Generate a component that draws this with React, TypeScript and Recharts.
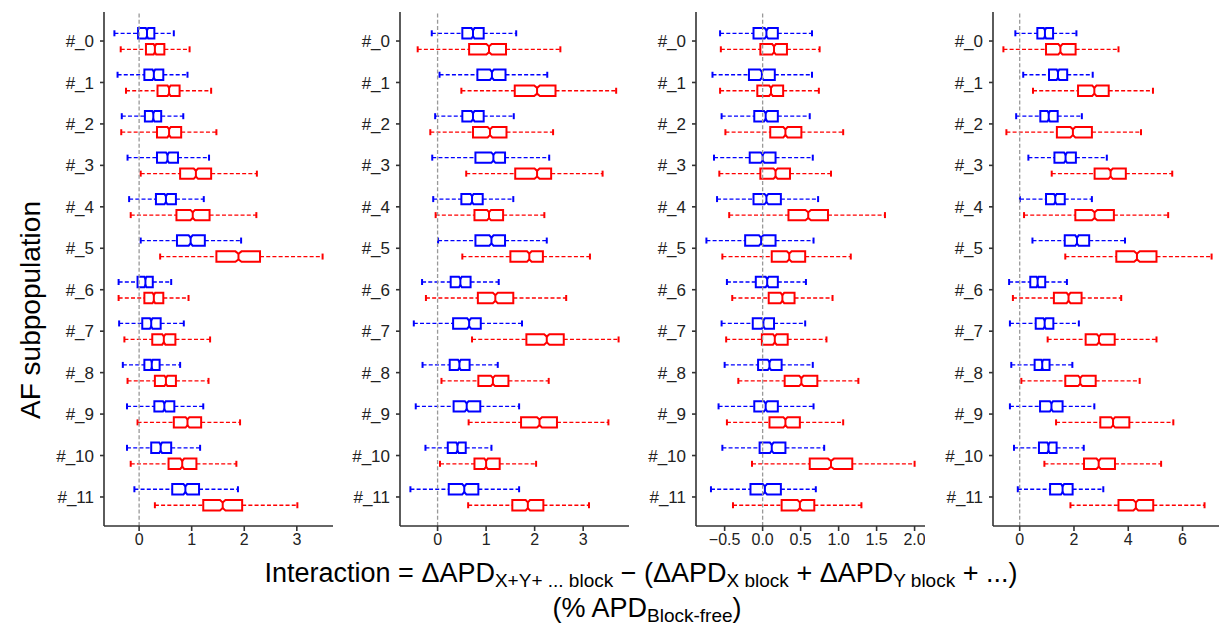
import { ComposedChart, Bar, XAxis, YAxis, ReferenceLine } from 'recharts';

// each box: [whisker low, q1, median, q3, whisker high]
type Box = [number, number, number, number, number];

const categories = ['#_0', '#_1', '#_2', '#_3', '#_4', '#_5', '#_6', '#_7', '#_8', '#_9', '#_10', '#_11'];

const panelABlue: Box[] = [
  [-0.47, -0.02, 0.15, 0.29, 0.66],
  [-0.41, 0.10, 0.28, 0.46, 0.92],
  [-0.33, 0.11, 0.27, 0.42, 0.84],
  [-0.22, 0.34, 0.54, 0.74, 1.33],
  [-0.19, 0.32, 0.51, 0.70, 1.23],
  [0.03, 0.72, 0.98, 1.25, 1.94],
  [-0.39, -0.03, 0.12, 0.26, 0.61],
  [-0.38, 0.06, 0.23, 0.41, 0.85],
  [-0.31, 0.10, 0.24, 0.39, 0.78],
  [-0.23, 0.29, 0.48, 0.67, 1.22],
  [-0.23, 0.23, 0.41, 0.61, 1.16],
  [-0.09, 0.63, 0.88, 1.14, 1.88],
];
const panelARed: Box[] = [
  [-0.35, 0.13, 0.30, 0.48, 0.96],
  [-0.25, 0.35, 0.57, 0.77, 1.37],
  [-0.34, 0.34, 0.57, 0.80, 1.47],
  [0.03, 0.78, 1.08, 1.37, 2.24],
  [-0.16, 0.71, 1.02, 1.34, 2.23],
  [0.40, 1.47, 1.89, 2.30, 3.49],
  [-0.39, 0.10, 0.28, 0.46, 0.94],
  [-0.28, 0.25, 0.47, 0.69, 1.35],
  [-0.22, 0.30, 0.51, 0.70, 1.32],
  [-0.03, 0.66, 0.92, 1.18, 1.92],
  [-0.16, 0.56, 0.82, 1.09, 1.85],
  [0.30, 1.22, 1.59, 1.96, 3.01],
];

const panelBBlue: Box[] = [
  [-0.12, 0.51, 0.73, 0.95, 1.62],
  [0.04, 0.82, 1.12, 1.40, 2.26],
  [-0.05, 0.51, 0.73, 0.95, 1.57],
  [-0.11, 0.78, 1.15, 1.39, 2.30],
  [-0.09, 0.49, 0.71, 0.93, 1.56],
  [0.01, 0.78, 1.11, 1.39, 2.25],
  [-0.32, 0.27, 0.47, 0.68, 1.26],
  [-0.49, 0.32, 0.65, 0.89, 1.74],
  [-0.31, 0.25, 0.45, 0.66, 1.24],
  [-0.45, 0.33, 0.60, 0.88, 1.68],
  [-0.25, 0.21, 0.41, 0.58, 1.11],
  [-0.56, 0.23, 0.55, 0.84, 1.68],
];
const panelBRed: Box[] = [
  [-0.41, 0.65, 1.06, 1.41, 2.53],
  [0.49, 1.59, 2.05, 2.43, 3.68],
  [-0.15, 0.73, 1.08, 1.42, 2.38],
  [0.59, 1.60, 2.05, 2.34, 3.40],
  [-0.04, 0.76, 1.06, 1.35, 2.20],
  [0.51, 1.50, 1.89, 2.17, 3.14],
  [-0.24, 0.83, 1.19, 1.56, 2.65],
  [0.71, 1.83, 2.25, 2.60, 3.73],
  [0.08, 0.84, 1.14, 1.46, 2.29],
  [0.64, 1.72, 2.10, 2.46, 3.52],
  [0.05, 0.76, 1.00, 1.28, 2.03],
  [0.63, 1.54, 1.86, 2.18, 3.12],
];

const panelCBlue: Box[] = [
  [-0.56, -0.12, 0.05, 0.20, 0.65],
  [-0.66, -0.18, -0.01, 0.16, 0.65],
  [-0.54, -0.11, 0.04, 0.20, 0.62],
  [-0.64, -0.17, 0.00, 0.17, 0.66],
  [-0.60, -0.12, 0.05, 0.24, 0.73],
  [-0.74, -0.23, -0.02, 0.17, 0.67],
  [-0.47, -0.09, 0.06, 0.20, 0.57],
  [-0.54, -0.13, 0.01, 0.15, 0.56],
  [-0.50, -0.06, 0.09, 0.25, 0.66],
  [-0.58, -0.11, 0.04, 0.20, 0.67],
  [-0.53, -0.04, 0.12, 0.30, 0.81],
  [-0.68, -0.16, 0.03, 0.24, 0.70],
];
const panelCRed: Box[] = [
  [-0.55, -0.03, 0.15, 0.32, 0.75],
  [-0.56, -0.07, 0.11, 0.27, 0.74],
  [-0.49, 0.10, 0.30, 0.51, 1.06],
  [-0.57, -0.03, 0.17, 0.36, 0.90],
  [-0.44, 0.34, 0.60, 0.86, 1.61],
  [-0.53, 0.12, 0.35, 0.56, 1.16],
  [-0.40, 0.08, 0.26, 0.42, 0.92],
  [-0.48, -0.01, 0.16, 0.33, 0.84],
  [-0.32, 0.29, 0.51, 0.72, 1.26],
  [-0.47, 0.09, 0.30, 0.49, 1.06],
  [-0.14, 0.62, 0.90, 1.18, 2.00],
  [-0.39, 0.25, 0.49, 0.68, 1.30],
];

const panelDBlue: Box[] = [
  [-0.16, 0.65, 0.93, 1.23, 2.09],
  [0.13, 1.08, 1.41, 1.75, 2.69],
  [-0.13, 0.76, 1.07, 1.40, 2.29],
  [0.32, 1.28, 1.69, 2.07, 3.21],
  [0.01, 0.97, 1.31, 1.66, 2.66],
  [0.47, 1.66, 2.11, 2.56, 3.88],
  [-0.39, 0.39, 0.66, 0.94, 1.74],
  [-0.36, 0.59, 0.92, 1.24, 2.18],
  [-0.31, 0.55, 0.83, 1.10, 1.94],
  [-0.36, 0.75, 1.17, 1.58, 2.75],
  [-0.21, 0.71, 1.06, 1.36, 2.36],
  [-0.07, 1.12, 1.58, 1.95, 3.08],
];
const panelDRed: Box[] = [
  [-0.60, 0.97, 1.50, 2.06, 3.64],
  [0.49, 2.15, 2.75, 3.28, 4.91],
  [-0.49, 1.37, 1.96, 2.66, 4.47],
  [1.18, 2.76, 3.35, 3.91, 5.62],
  [0.16, 2.05, 2.76, 3.47, 5.47],
  [1.68, 3.56, 4.32, 5.04, 7.07],
  [-0.25, 1.26, 1.80, 2.28, 3.74],
  [1.03, 2.43, 2.92, 3.50, 5.04],
  [0.06, 1.68, 2.23, 2.80, 4.42],
  [1.34, 2.97, 3.44, 4.04, 5.66],
  [0.91, 2.37, 2.91, 3.51, 5.21],
  [1.87, 3.64, 4.28, 4.92, 6.81],
];

const ticksA = [0, 1, 2, 3];
const ticksB = [0, 1, 2, 3];
const ticksC = [-0.5, 0, 0.5, 1, 1.5, 2];
const ticksD = [0, 2, 4, 6];

const panels = [
  { blue: panelABlue, red: panelARed, ticks: ticksA, decimals: 0 },
  { blue: panelBBlue, red: panelBRed, ticks: ticksB, decimals: 0 },
  { blue: panelCBlue, red: panelCRed, ticks: ticksC, decimals: 1 },
  { blue: panelDBlue, red: panelDRed, ticks: ticksD, decimals: 0 },
];

const BLUE = '#0000ff';
const RED = '#ff0000';
const FONT = '"Liberation Sans", Arial, Helvetica, sans-serif';
const SAMPLES = 500; // notch width ~ 1.57 * IQR / sqrt(n)

// 5% margin on each side of the data range
const padDomain = (boxes: Box[][]): [number, number] => {
  const all = boxes.flat().flat();
  const lo = Math.min(...all);
  const hi = Math.max(...all);
  const pad = (hi - lo) * 0.05;
  return [lo - pad, hi + pad];
};

const fmtTick = (decimals: number) => (v: number) => {
  const s = Math.abs(v).toFixed(decimals);
  return v < 0 ? `\u2212${s}` : s;
};

// draws a notched horizontal box plot inside the range bar [whisker low, whisker high]
const boxShape = (key: 'blue' | 'red', color: string) => (props: any) => {
  const { x, y, width, height, payload } = props;
  const [lo, q1, med, q3, hi] = payload[key] as Box;
  const px = (v: number) => x + ((v - lo) / (hi - lo)) * width;
  const cy = y + height / 2;
  const half = 5.2;
  const waist = half * 0.55;
  const notch = (1.57 * (q3 - q1)) / Math.sqrt(SAMPLES);
  const xq1 = px(q1), xq3 = px(q3), xm = px(med);
  const xnl = px(med - notch), xnh = px(med + notch);
  const top = cy - half, bot = cy + half;
  const path = [
    `M${xq1},${top}`, `L${xnl},${top}`, `L${xm},${cy - waist}`, `L${xnh},${top}`, `L${xq3},${top}`,
    `L${xq3},${bot}`, `L${xnh},${bot}`, `L${xm},${cy + waist}`, `L${xnl},${bot}`, `L${xq1},${bot}`, 'Z',
  ].join(' ');
  const xlo = px(lo), xhi = px(hi);
  return (
    <g>
      <line x1={xlo} y1={cy} x2={xq1} y2={cy} stroke={color} strokeWidth={1.3} strokeDasharray="4 2.2" />
      <line x1={xq3} y1={cy} x2={xhi} y2={cy} stroke={color} strokeWidth={1.3} strokeDasharray="4 2.2" />
      <line x1={xlo} y1={cy - 3} x2={xlo} y2={cy + 3} stroke={color} strokeWidth={2} />
      <line x1={xhi} y1={cy - 3} x2={xhi} y2={cy + 3} stroke={color} strokeWidth={2} />
      <path d={path} fill="none" stroke={color} strokeWidth={2} strokeLinejoin="miter" />
      <line x1={xm} y1={cy - waist} x2={xm} y2={cy + waist} stroke={color} strokeWidth={2} />
    </g>
  );
};

const blueShape = boxShape('blue', BLUE);
const redShape = boxShape('red', RED);

const PLOT_W = 229;
const LEFT_OFF = 70;
const PLOT_TOP = 12;
const PLOT_BOTTOM = 526;
const CHART_H = 630;

function Panel({ index }: { index: number }) {
  const p = panels[index];
  const rows = categories.map((name, i) => ({ name, blue: p.blue[i], red: p.red[i] }));
  const domain = padDomain([p.blue, p.red]);
  const axisX = 104 + 296.2 * index;
  return (
    <div style={{ position: 'absolute', left: axisX - LEFT_OFF, top: 0 }}>
      <ComposedChart
        width={LEFT_OFF + PLOT_W}
        height={CHART_H}
        data={rows}
        layout="vertical"
        barGap={0}
        margin={{ top: PLOT_TOP, right: 0, left: 6, bottom: CHART_H - PLOT_BOTTOM - 30 }}
      >
        <XAxis
          type="number"
          domain={domain}
          allowDataOverflow
          ticks={p.ticks}
          tickFormatter={fmtTick(p.decimals)}
          height={30}
          tickSize={5}
          tickMargin={3}
          stroke="#333"
          strokeWidth={1.6}
          tick={{ fill: '#222', fontSize: 16, fontFamily: FONT }}
        />
        <YAxis
          type="category"
          dataKey="name"
          width={64}
          padding={{ top: 8.3, bottom: 8.3 }}
          tickSize={4}
          tickMargin={6}
          stroke="#333"
          strokeWidth={1.6}
          interval={0}
          tick={{ fill: '#222', fontSize: 17, fontFamily: FONT }}
        />
        <ReferenceLine x={0} stroke="#999" strokeWidth={1.3} strokeDasharray="4 2.2" />
        <Bar
          dataKey={(d: any) => [d.blue[0], d.blue[4]]}
          barSize={16}
          shape={blueShape}
          isAnimationActive={false}
        />
        <Bar
          dataKey={(d: any) => [d.red[0], d.red[4]]}
          barSize={16}
          shape={redShape}
          isAnimationActive={false}
        />
      </ComposedChart>
    </div>
  );
}

export default function App() {
  const sub = 19;
  return (
    <div style={{ position: 'absolute', left: 0, top: 0, width: 1219, height: 630, overflow: 'hidden', background: '#fff', fontFamily: FONT }}>
      {[0, 1, 2, 3].map((i) => (
        <Panel key={i} index={i} />
      ))}
      <svg width={1219} height={630} style={{ position: 'absolute', left: 0, top: 0, pointerEvents: 'none' }}>
        <text
          transform="translate(40, 310) rotate(-90)"
          textAnchor="middle"
          fontSize={28}
          fontFamily={FONT}
          fill="#000"
        >
          AF subpopulation
        </text>
        <text x={641} y={582} textAnchor="middle" fontSize={27} fontFamily={FONT} fill="#000">
          Interaction = ΔAPD
          <tspan fontSize={sub} dy={5}>X+Y+ ... block</tspan>
          <tspan dy={-5}>{' \u2212 (ΔAPD'}</tspan>
          <tspan fontSize={sub} dy={5}>X block</tspan>
          <tspan dy={-5}>{' + ΔAPD'}</tspan>
          <tspan fontSize={sub} dy={5}>Y block</tspan>
          <tspan dy={-5}>{' + ...)'}</tspan>
        </text>
        <text x={647} y={617} textAnchor="middle" fontSize={27} fontFamily={FONT} fill="#000">
          (% APD
          <tspan fontSize={sub} dy={5}>Block-free</tspan>
          <tspan dy={-5}>)</tspan>
        </text>
      </svg>
    </div>
  );
}
